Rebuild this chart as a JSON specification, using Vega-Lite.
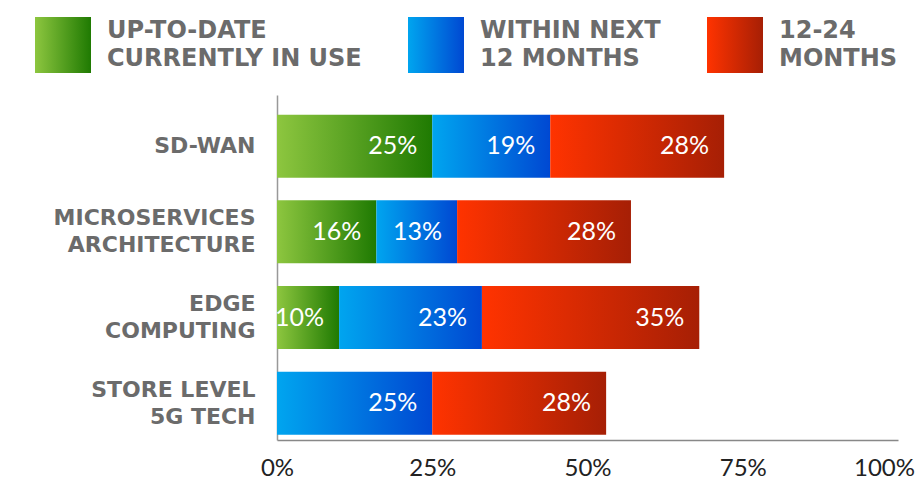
{
  "$schema": "https://vega.github.io/schema/vega-lite/v6.json",
  "width": 621,
  "height": 345,
  "autosize": {"type": "none"},
  "padding": {"left": 277, "top": 95, "right": 26, "bottom": 45},
  "background": "white",
  "config": {"view": {"stroke": null}},
  "data": {
    "values": [
      {"tech": "SD-WAN", "status": "UP-TO-DATE\nCURRENTLY IN USE", "pct": 0.25},
      {"tech": "SD-WAN", "status": "WITHIN NEXT\n12 MONTHS", "pct": 0.19},
      {"tech": "SD-WAN", "status": "12-24\nMONTHS", "pct": 0.28},
      {"tech": "MICROSERVICES\nARCHITECTURE", "status": "UP-TO-DATE\nCURRENTLY IN USE", "pct": 0.16},
      {"tech": "MICROSERVICES\nARCHITECTURE", "status": "WITHIN NEXT\n12 MONTHS", "pct": 0.13},
      {"tech": "MICROSERVICES\nARCHITECTURE", "status": "12-24\nMONTHS", "pct": 0.28},
      {"tech": "EDGE\nCOMPUTING", "status": "UP-TO-DATE\nCURRENTLY IN USE", "pct": 0.10},
      {"tech": "EDGE\nCOMPUTING", "status": "WITHIN NEXT\n12 MONTHS", "pct": 0.23},
      {"tech": "EDGE\nCOMPUTING", "status": "12-24\nMONTHS", "pct": 0.35},
      {"tech": "STORE LEVEL\n5G TECH", "status": "WITHIN NEXT\n12 MONTHS", "pct": 0.25},
      {"tech": "STORE LEVEL\n5G TECH", "status": "12-24\nMONTHS", "pct": 0.28}
    ]
  },
  "transform": [{"stack": "pct", "groupby": ["tech"], "as": ["p0", "p1"]}],
  "encoding": {
    "y": {
      "field": "tech",
      "type": "nominal",
      "sort": null,
      "scale": {"paddingInner": 0.265, "paddingOuter": 0.145, "align": 0.79},
      "axis": {
        "title": null,
        "ticks": false,
        "domainColor": "#999999",
        "domainWidth": 1.5,
        "labelFont": "DejaVu Sans",
        "labelFontWeight": "bold",
        "labelFontSize": 22,
        "labelColor": "#6b6b6b",
        "labelPadding": 22,
        "labelLimit": 0,
        "labelLineHeight": 27,
        "labelExpr": "split(datum.label, '\\n')",
        "labelOffset": {"condition": {"test": "indexof(datum.value, '\\n') >= 0", "value": -13.5}, "value": 0}
      }
    }
  },
  "layer": [
    {
      "mark": {"type": "bar", "opacity": 1},
      "encoding": {
        "x": {
          "field": "p0",
          "type": "quantitative",
          "scale": {"domain": [0, 1], "nice": false},
          "axis": {
            "title": null,
            "values": [0, 0.25, 0.5, 0.75, 1],
            "format": ".0%",
            "grid": false,
            "ticks": false,
            "domainColor": "#888888",
            "domainWidth": 1.5,
            "labelFont": "Lato",
            "labelFontSize": 24,
            "labelColor": "#222222",
            "labelPadding": 16,
            "labelFlush": false,
            "labelOffset": {"condition": {"test": "datum.value == 1", "value": -14}, "value": 0}
          }
        },
        "x2": {"field": "p1"},
        "color": {
          "field": "status",
          "type": "nominal",
          "sort": null,
          "scale": {
            "domain": ["UP-TO-DATE\nCURRENTLY IN USE", "WITHIN NEXT\n12 MONTHS", "12-24\nMONTHS"],
            "range": [
              {"expr": "{gradient: 'linear', stops: [{offset: 0, color: '#8dc63f'}, {offset: 1, color: '#1f7a02'}]}"},
              {"expr": "{gradient: 'linear', stops: [{offset: 0, color: '#00a5ef'}, {offset: 1, color: '#0048d2'}]}"},
              {"expr": "{gradient: 'linear', stops: [{offset: 0, color: '#ff3300'}, {offset: 1, color: '#a61f05'}]}"}
            ]
          },
          "legend": {
            "title": null,
            "orient": "none",
            "legendX": -242,
            "legendY": -78,
            "direction": "horizontal",
            "padding": 0,
            "symbolType": "square",
            "symbolSize": 3136,
            "symbolStrokeWidth": 0,
            "symbolOpacity": 1,
            "labelFont": "DejaVu Sans",
            "labelFontWeight": "bold",
            "labelFontSize": 24,
            "labelColor": "#6b6b6b",
            "labelOffset": 16,
            "labelLimit": 0,
            "labelBaseline": "middle",
            "columnPadding": 46,
            "labelExpr": "split(datum.label, '\\n')",
            "encode": {"labels": {"update": {"lineHeight": {"value": 28}, "dy": {"value": -14}}}}
          }
        }
      }
    },
    {
      "mark": {"type": "text", "align": "right", "baseline": "middle", "dx": -15, "font": "Lato", "fontSize": 25, "color": "white"},
      "encoding": {
        "x": {"field": "p1", "type": "quantitative"},
        "text": {"field": "pct", "type": "quantitative", "format": ".0%"}
      }
    }
  ]
}
